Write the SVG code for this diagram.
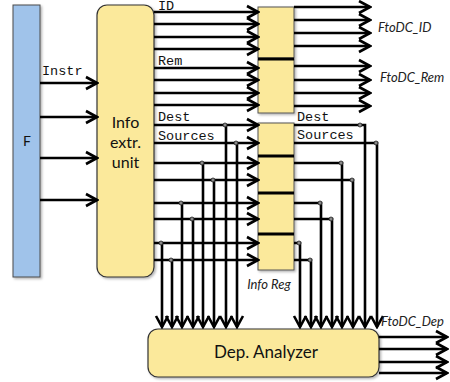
<svg xmlns="http://www.w3.org/2000/svg" width="450" height="382" viewBox="0 0 450 382">
<style>
.blk{fill:#a0c3ea;stroke:#4a4a4a;stroke-width:1}
.yel{fill:#fbe99b;stroke:#333;stroke-width:1.2}
.reg{fill:#fbe99b;stroke:#555;stroke-width:1}
.w{fill:none;stroke:#000;stroke-width:2.6}
.a{marker-end:url(#ah)}
.div{stroke:#000;stroke-width:3}
.dot{fill:#888;stroke:#222;stroke-width:0.8}
.mono{font-family:"Liberation Mono","DejaVu Sans Mono",monospace;font-size:13.5px;fill:#111}
.sans{font-family:Lato,"Open Sans",sans-serif;fill:#111}
.it{font-family:Lato,"Open Sans",sans-serif;font-style:italic;font-size:13px;fill:#222}
</style>
<defs>
<marker id="ah" viewBox="-2 -2 15 16" refX="11" refY="6" markerWidth="15" markerHeight="16" markerUnits="userSpaceOnUse" orient="auto">
<path d="M0,0 L11,6 L0,12" fill="none" stroke="#000" stroke-width="2.6"/>
</marker>
<filter id="sh" x="-10%" y="-10%" width="130%" height="130%">
<feDropShadow dx="1.5" dy="1.5" stdDeviation="1" flood-color="#000" flood-opacity="0.3"/>
</filter>
</defs>

<g id="F">
<rect class="blk" x="13" y="5" width="27" height="272" filter="url(#sh)"/>
<text class="sans" x="27" y="146" font-size="14" text-anchor="middle">F</text>
</g>

<g id="info-extr-unit">
<rect class="yel" x="97" y="5" width="57" height="272" rx="10" filter="url(#sh)"/>
<text class="sans" font-size="16" text-anchor="middle"><tspan x="125.5" y="128">Info</tspan><tspan x="125.5" y="148">extr.</tspan><tspan x="125.5" y="168">unit</tspan></text>
</g>

<g id="info-reg">
<rect class="reg" x="258" y="7" width="36" height="51" filter="url(#sh)"/>
<rect class="reg" x="258" y="59" width="36" height="54" filter="url(#sh)"/>
<rect class="reg" x="258" y="123" width="36" height="147" filter="url(#sh)"/>
<line class="div" x1="258" y1="59" x2="294" y2="59"/>
<line class="div" x1="258" y1="156" x2="294" y2="156"/>
<line class="div" x1="258" y1="193" x2="294" y2="193"/>
<line class="div" x1="258" y1="234" x2="294" y2="234"/>
<text class="it" x="269" y="289" text-anchor="middle">Info Reg</text>
</g>

<g id="dep-analyzer">
<rect class="yel" x="148" y="329" width="231" height="48" rx="10" filter="url(#sh)"/>
<text class="sans" x="266" y="358" font-size="17" text-anchor="middle">Dep. Analyzer</text>
</g>

<g id="connectors">
<line class="w a" x1="40" y1="83" x2="97" y2="83"/>
<line class="w a" x1="40" y1="117" x2="97" y2="117"/>
<line class="w a" x1="40" y1="158" x2="97" y2="158"/>
<line class="w a" x1="40" y1="200" x2="97" y2="200"/>
<line class="w a" x1="154" y1="12" x2="258" y2="12"/>
<line class="w a" x1="154" y1="24" x2="258" y2="24"/>
<line class="w a" x1="154" y1="37" x2="258" y2="37"/>
<line class="w a" x1="154" y1="49" x2="258" y2="49"/>
<line class="w a" x1="154" y1="68" x2="258" y2="68"/>
<line class="w a" x1="154" y1="80" x2="258" y2="80"/>
<line class="w a" x1="154" y1="93" x2="258" y2="93"/>
<line class="w a" x1="154" y1="105" x2="258" y2="105"/>
<line class="w a" x1="154" y1="125" x2="258" y2="125"/>
<line class="w a" x1="154" y1="143" x2="258" y2="143"/>
<line class="w a" x1="154" y1="163" x2="258" y2="163"/>
<line class="w a" x1="154" y1="180" x2="258" y2="180"/>
<line class="w a" x1="154" y1="203" x2="258" y2="203"/>
<line class="w a" x1="154" y1="219" x2="258" y2="219"/>
<line class="w a" x1="154" y1="243" x2="258" y2="243"/>
<line class="w a" x1="154" y1="260" x2="258" y2="260"/>
<line class="w a" x1="294" y1="7" x2="370" y2="7"/>
<line class="w a" x1="294" y1="20" x2="370" y2="20"/>
<line class="w a" x1="294" y1="33" x2="370" y2="33"/>
<line class="w a" x1="294" y1="46" x2="370" y2="46"/>
<line class="w a" x1="294" y1="66" x2="370" y2="66"/>
<line class="w a" x1="294" y1="80" x2="370" y2="80"/>
<line class="w a" x1="294" y1="93" x2="370" y2="93"/>
<line class="w a" x1="294" y1="106" x2="370" y2="106"/>
<line class="w a" x1="226" y1="125" x2="226" y2="327"/>
<line class="w a" x1="237" y1="143" x2="237" y2="327"/>
<line class="w a" x1="203" y1="163" x2="203" y2="327"/>
<line class="w a" x1="214" y1="180" x2="214" y2="327"/>
<line class="w a" x1="182" y1="203" x2="182" y2="327"/>
<line class="w a" x1="193" y1="219" x2="193" y2="327"/>
<line class="w a" x1="162" y1="243" x2="162" y2="327"/>
<line class="w a" x1="172" y1="260" x2="172" y2="327"/>
<path class="w a" d="M294,125 H365 V327"/>
<path class="w a" d="M294,143 H377 V327"/>
<path class="w a" d="M294,163 H342 V327"/>
<path class="w a" d="M294,180 H353 V327"/>
<path class="w a" d="M294,203 H321 V327"/>
<path class="w a" d="M294,219 H332 V327"/>
<path class="w a" d="M294,243 H300 V327"/>
<path class="w a" d="M294,260 H311 V327"/>
<line class="w a" x1="379" y1="337" x2="447" y2="337"/>
<line class="w a" x1="379" y1="349" x2="447" y2="349"/>
<line class="w a" x1="379" y1="362" x2="447" y2="362"/>
<line class="w a" x1="379" y1="373" x2="447" y2="373"/>
<circle class="dot" cx="225" cy="125" r="2"/>
<circle class="dot" cx="236" cy="143" r="2"/>
<circle class="dot" cx="202" cy="163" r="2"/>
<circle class="dot" cx="213" cy="180" r="2"/>
<circle class="dot" cx="181" cy="203" r="2"/>
<circle class="dot" cx="192" cy="219" r="2"/>
<circle class="dot" cx="161" cy="243" r="2"/>
<circle class="dot" cx="171" cy="260" r="2"/>
<circle class="dot" cx="360" cy="125" r="2"/>
<circle class="dot" cx="376" cy="143" r="2"/>
<circle class="dot" cx="341" cy="163" r="2"/>
<circle class="dot" cx="352" cy="180" r="2"/>
<circle class="dot" cx="320" cy="203" r="2"/>
<circle class="dot" cx="331" cy="219" r="2"/>
<circle class="dot" cx="299" cy="243" r="2"/>
<circle class="dot" cx="310" cy="260" r="2"/>
</g>

<g id="labels">
<text class="mono" x="42" y="75">Instr</text>
<text class="mono" x="158" y="10">ID</text>
<text class="mono" x="158" y="65">Rem</text>
<text class="mono" x="158" y="121">Dest</text>
<text class="mono" x="158" y="140">Sources</text>
<text class="mono" x="297" y="121">Dest</text>
<text class="mono" x="297" y="139">Sources</text>
<text class="it" x="378" y="32">FtoDC_ID</text>
<text class="it" x="380" y="82">FtoDC_Rem</text>
<text class="it" x="381" y="326">FtoDC_Dep</text>
</g>
</svg>
